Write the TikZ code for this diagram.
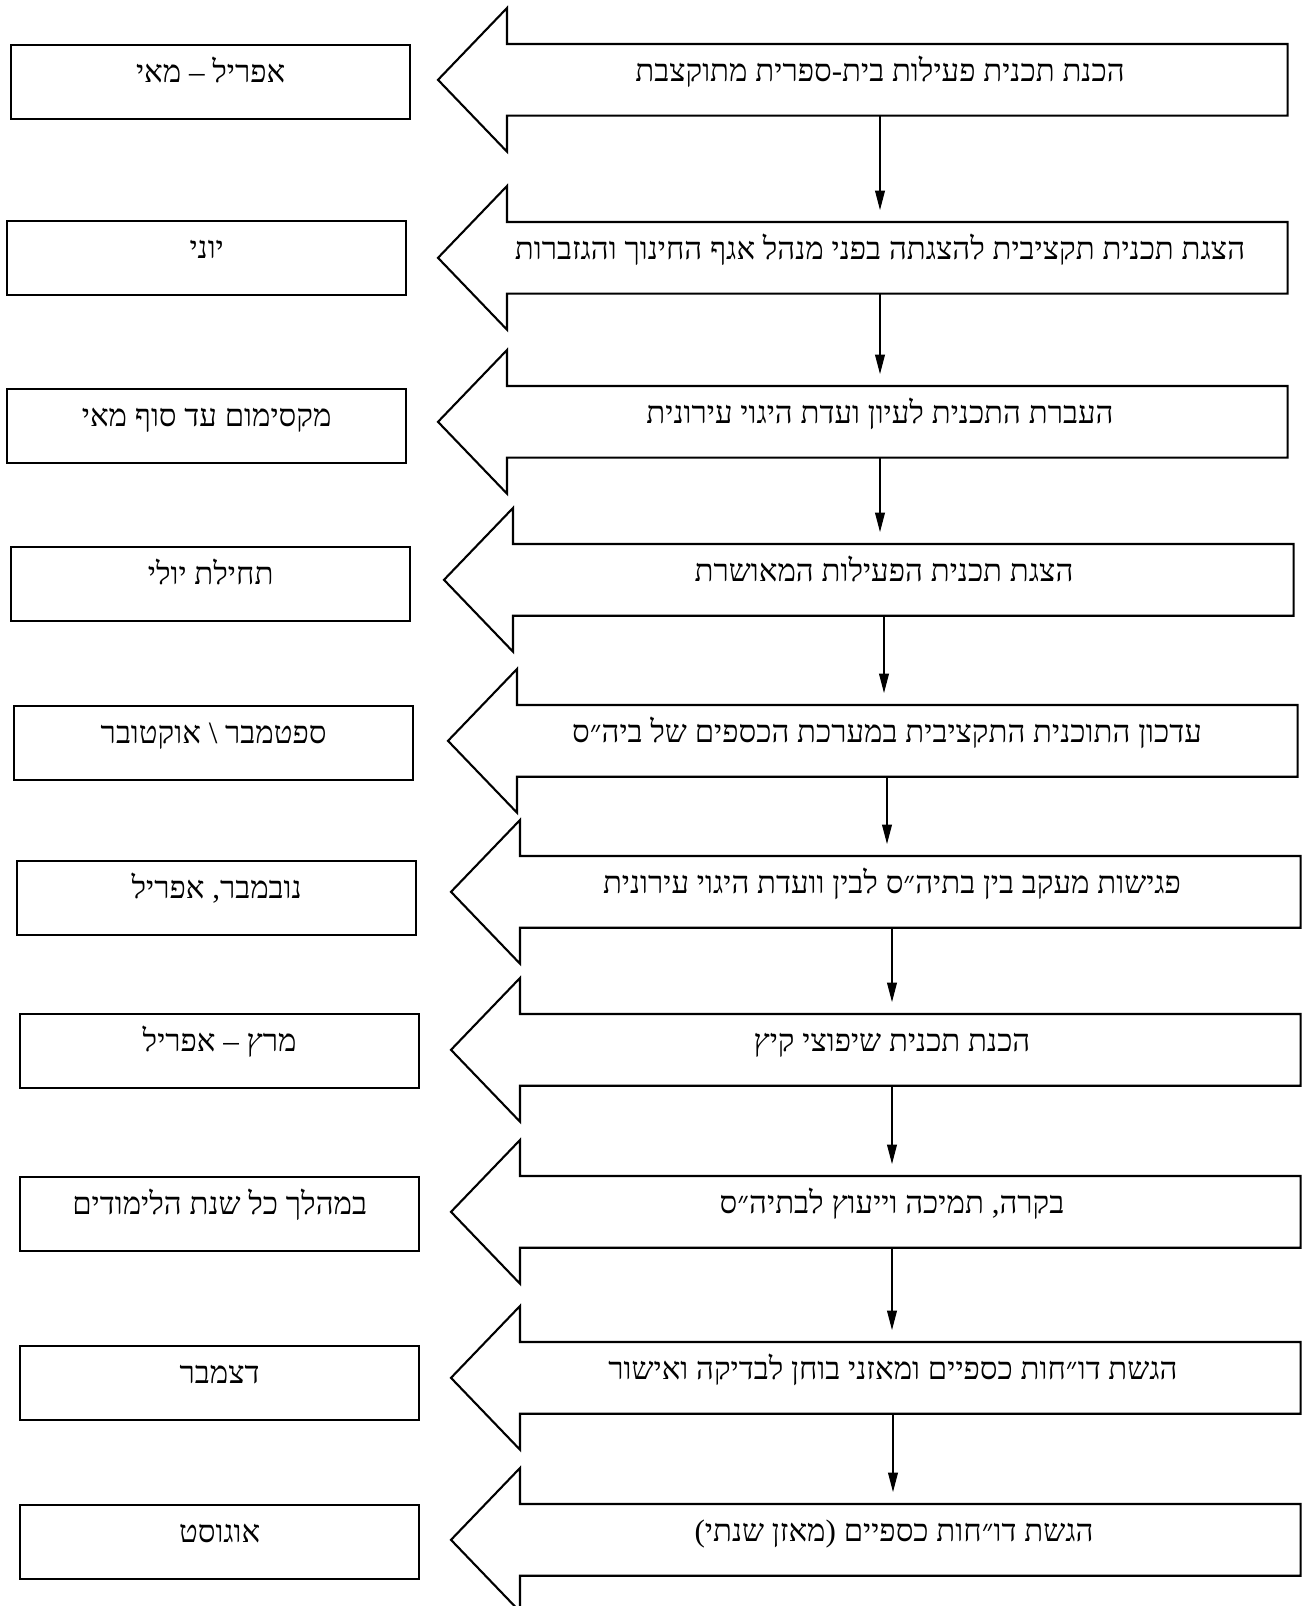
\documentclass[tikz,border=0pt]{standalone}
\usepackage{fontspec}
\usepackage{tikz}
\usetikzlibrary{arrows.meta,positioning,calc}
\newfontfamily\hebfont[Script=Hebrew]{Liberation Serif}
\TeXXeTstate=1
\tikzset{
  when/.style ={draw, line width=1.4pt, anchor=north west, inner sep=0pt,
                minimum width=7.98cm, minimum height=1.48cm,
                font=\hebfont\fontsize{17.7}{21}\selectfont,
                text height=7.9pt, text depth=8pt},
  shaft/.style={draw=none, anchor=north west, inner sep=0pt,
                minimum width=15.6cm, minimum height=1.42cm},
  big/.style  ={draw, line width=1.2pt, line join=miter},
  task/.style ={font=\hebfont\fontsize{17.7}{21}\selectfont, inner sep=0pt,
                text height=7.9pt, text depth=0pt},
  flow/.style ={line width=0.6pt, -{Triangle[length=11pt,width=5.6pt]},
                shorten >=0.24cm},
}

\begin{document}
\begin{tikzpicture}[x=0.02cm,y=-0.02cm]
  \useasboundingbox (0,0) rectangle (1303,1606);

  % ---------------------------------------------------------------- steps
  % date box on the left, wide arrow pointing at it from the right
  \foreach \i/\bx/\by/\ax/\ay/\tx/\when/\what in {
    1/10/44/438/44/880/{אפריל – מאי}/{הכנת תכנית פעילות בית-ספרית מתוקצבת},
    2/6/220/438/222/880/{יוני}/{הצגת תכנית תקציבית להצגתה בפני מנהל אגף החינוך והגזברות},
    3/6/388/438/386/880/{מקסימום עד סוף מאי}/{העברת התכנית לעיון ועדת היגוי עירונית},
    4/10/546/444/544/884/{תחילת יולי}/{הצגת תכנית הפעילות המאושרת},
    5/13/705/448/705/887/{ספטמבר \textbackslash\ אוקטובר}/{עדכון התוכנית התקציבית במערכת הכספים של ביה״ס},
    6/16/860/451/856/892/{נובמבר, אפריל}/{פגישות מעקב בין בתיה״ס לבין וועדת היגוי עירונית},
    7/19/1013/451/1014/892/{מרץ – אפריל}/{הכנת תכנית שיפוצי קיץ},
    8/19/1176/451/1176/892/{במהלך כל שנת הלימודים}/{בקרה, תמיכה וייעוץ לבתיה״ס},
    9/19/1345/451/1342/893/{דצמבר}/{הגשת דו״חות כספיים ומאזני בוחן לבדיקה ואישור},
    10/19/1504/451/1504/894/{אוגוסט}/{הגשת דו״חות כספיים (מאזן שנתי)}}
  {
    \node[when] (w\i) at (\bx,\by) {\beginR\when\endR};
    \node[shaft] (s\i) at (\ax+69,\ay) {};
    \draw[big] (s\i.north west) -- (s\i.north east) -- (s\i.south east)
      -- (s\i.south west) -- ++(0,36) -- ($(s\i.west)+(-69,0)$)
      -- ($(s\i.north west)+(0,-36)$) -- cycle;
    \node[task] (t\i) at (\tx,\ay+31) {\beginR\what\endR};
  }

  % ---------------------------------------------------------------- flow
  \foreach \i/\j in {1/2,2/3,3/4,4/5,5/6,6/7,7/8,8/9,9/10}
    \draw[flow] (s\i.south -| t\i) -- (s\j.north -| t\i);
\end{tikzpicture}
\end{document}
